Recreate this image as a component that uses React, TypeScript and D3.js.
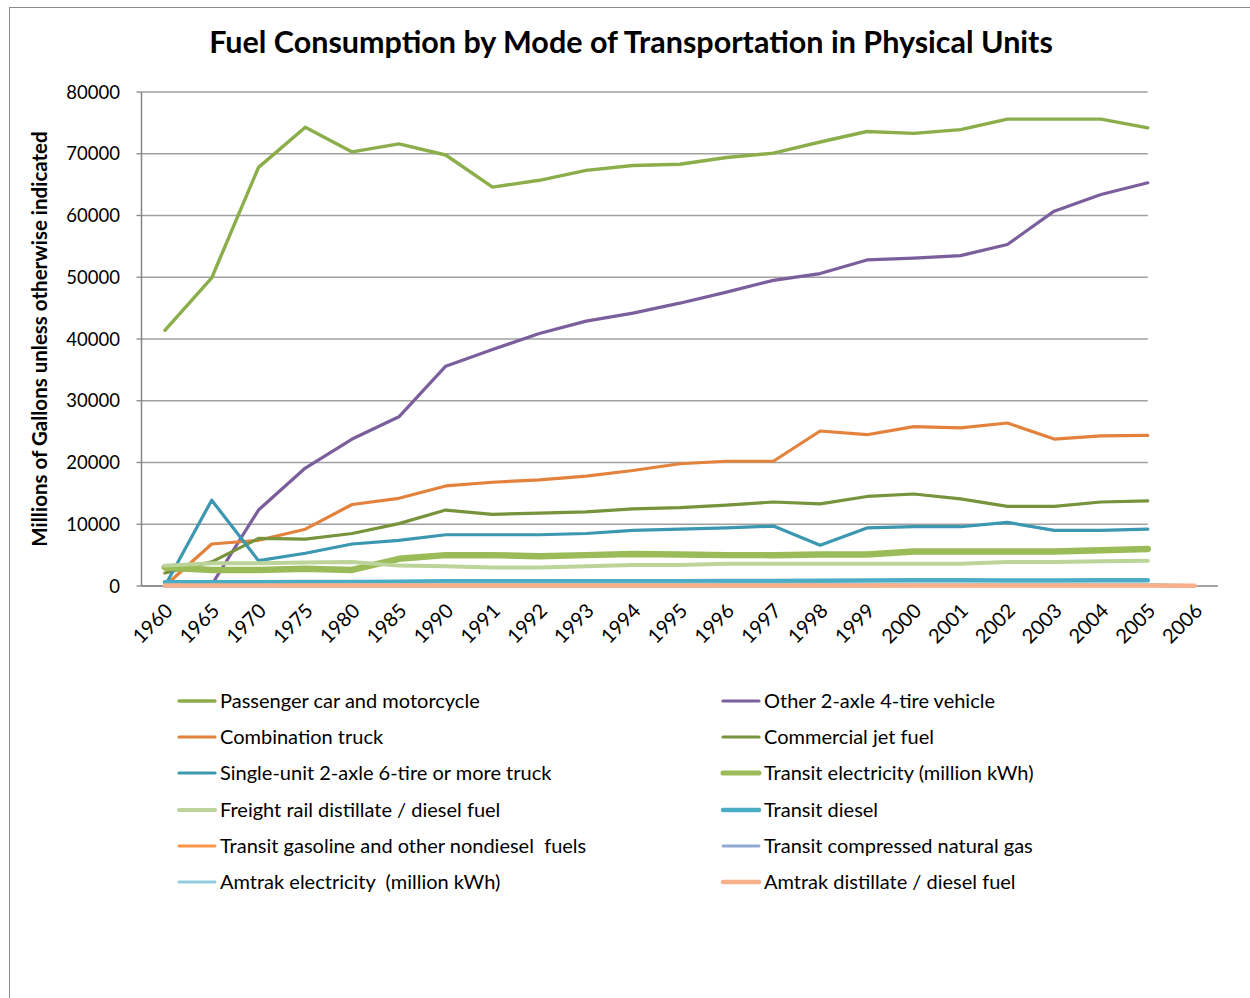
import React from "react";
import * as d3 from "d3";

const categories = ["1960","1965","1970","1975","1980","1985","1990","1991","1992","1993","1994","1995","1996","1997","1998","1999","2000","2001","2002","2003","2004","2005","2006"];

const yTicks = [0, 10000, 20000, 30000, 40000, 50000, 60000, 70000, 80000];

type V = number | null;

const passengerCar: V[] = [41400, 49900, 67800, 74300, 70300, 71600, 69800, 64600, 65700, 67300, 68100, 68300, 69400, 70100, 71900, 73600, 73300, 73900, 75600, 75600, 75600, 74200, null];
const other2Axle: V[] = [null, 200, 12300, 19100, 23800, 27400, 35600, 38300, 40900, 42900, 44200, 45800, 47600, 49500, 50600, 52800, 53100, 53500, 55300, 60700, 63400, 65300, null];
const combinationTruck: V[] = [0, 6800, 7400, 9200, 13200, 14200, 16200, 16800, 17200, 17800, 18700, 19800, 20200, 20200, 25100, 24500, 25800, 25600, 26400, 23800, 24300, 24400, null];
const commercialJet: V[] = [2100, 3900, 7700, 7600, 8500, 10100, 12300, 11600, 11800, 12000, 12500, 12700, 13100, 13600, 13300, 14500, 14900, 14100, 12900, 12900, 13600, 13800, null];
const singleUnitTruck: V[] = [0, 13900, 4100, 5300, 6800, 7400, 8300, 8300, 8300, 8500, 9000, 9200, 9400, 9700, 6600, 9400, 9600, 9600, 10300, 9000, 9000, 9200, null];
const transitElectricity: V[] = [3000, 2600, 2600, 2800, 2600, 4400, 5000, 5000, 4800, 5000, 5200, 5100, 5000, 5000, 5100, 5100, 5600, 5600, 5600, 5600, 5800, 6000, null];
const freightRail: V[] = [3300, 3700, 3700, 3800, 3900, 3300, 3200, 3000, 3000, 3200, 3400, 3400, 3600, 3600, 3600, 3600, 3600, 3600, 3900, 3900, 4000, 4100, null];
const transitDiesel: V[] = [600, 600, 600, 650, 650, 700, 750, 750, 750, 750, 750, 750, 800, 800, 850, 900, 950, 950, 900, 900, 950, 950, null];
const transitGasoline: V[] = [100, 90, 80, 60, 50, 40, 30, 30, 30, 30, 30, 30, 30, 30, 30, 30, 30, 30, 30, 30, 30, 30, 0];
const transitCNG: V[] = [0, 0, 0, 0, 0, 0, 0, 0, 0, 0, 10, 20, 30, 40, 50, 60, 70, 80, 90, 100, 110, 120, 0];
const amtrakElectricity: V[] = [0, 0, 0, 150, 200, 250, 300, 300, 300, 300, 300, 300, 300, 300, 300, 300, 300, 300, 300, 300, 300, 300, 0];
const amtrakDistillate: V[] = [80, 80, 80, 80, 80, 80, 80, 80, 80, 80, 80, 80, 80, 80, 80, 80, 80, 80, 80, 80, 80, 80, 50];

const seriesNames = [
  "Passenger car and motorcycle",
  "Other 2-axle 4-tire vehicle",
  "Combination truck",
  "Commercial jet fuel",
  "Single-unit 2-axle 6-tire or more truck",
  "Transit electricity (million kWh)",
  "Freight rail distillate / diesel fuel",
  "Transit diesel",
  "Transit gasoline and other nondiesel  fuels",
  "Transit compressed natural gas",
  "Amtrak electricity  (million kWh)",
  "Amtrak distillate / diesel fuel",
];
const seriesValues = [passengerCar, other2Axle, combinationTruck, commercialJet, singleUnitTruck, transitElectricity, freightRail, transitDiesel, transitGasoline, transitCNG, amtrakElectricity, amtrakDistillate];
const seriesColors = ["#8BAE4B", "#7B5E9C", "#E3823C", "#77933C", "#3C97B1", "#9BBB59", "#BCD39A", "#4BACC6", "#F79646", "#8FA9D0", "#93CDDD", "#F6B08C"];
const seriesWidths = [3.4, 3.2, 3.2, 3.2, 3.2, 6.5, 4, 4.5, 3, 3, 3, 4.5];

const FONT = "Lato, 'Open Sans', sans-serif";

export default function App() {
  const left = 141.5;
  const right = 1218;
  const top = 92;
  const bottom = 586;
  const x = d3.scaleBand<string>().domain(categories).range([left, right]);
  const cx = (c: string) => (x(c) as number) + x.bandwidth() / 2;
  const y = d3.scaleLinear().domain([0, 80000]).range([bottom, top]);
  const gridEnd = cx("2005");

  const line = d3
    .line<V>()
    .defined((d) => d !== null)
    .x((_, i) => cx(categories[i]))
    .y((d) => y(d as number));

  const legendRows = [701, 737, 773, 810, 846, 882];

  return (
    <svg width={1250} height={998} style={{ position: "absolute", left: 0, top: 0, background: "#fff" }} fontFamily={FONT}>
      <rect x={9.5} y={7.5} width={1300} height={1100} fill="#fff" stroke="#8c8c8c" strokeWidth={1} />
      <text x={631} y={53} textAnchor="middle" fontSize={30.5} fontWeight="bold" fill="#000">
        Fuel Consumption by Mode of Transportation in Physical Units
      </text>
      {/* gridlines */}
      {yTicks.map((t) => (
        <line key={"g" + t} x1={left} x2={gridEnd} y1={y(t)} y2={y(t)} stroke="#a0a0a0" strokeWidth={1.3} />
      ))}
      {yTicks.map((t) => (
        <line key={"tk" + t} x1={left - 5} x2={left} y1={y(t)} y2={y(t)} stroke="#868686" strokeWidth={1.3} />
      ))}
      {yTicks.map((t) => (
        <text key={"yl" + t} x={120} y={y(t) + 6.5} textAnchor="end" fontSize={18.5} fill="#000">
          {t}
        </text>
      ))}
      <line x1={left} x2={left} y1={top} y2={bottom} stroke="#868686" strokeWidth={1.5} />
      <line x1={left} x2={right} y1={bottom} y2={bottom} stroke="#868686" strokeWidth={1.5} />
      <text transform={`translate(47, ${(top + bottom) / 2}) rotate(-90)`} textAnchor="middle" fontSize={20.5} fontWeight="bold" fill="#000">
        Millions of Gallons unless otherwise indicated
      </text>
      {/* series */}
      {seriesValues.map((vals, i) => (
        <path key={"s" + i} d={line(vals) || ""} fill="none" stroke={seriesColors[i]} strokeWidth={seriesWidths[i]} strokeLinejoin="round" strokeLinecap="round" />
      ))}
      {categories.map((c) => (
        <text key={"xl" + c} transform={`translate(${cx(c) + 9}, ${612}) rotate(-45)`} textAnchor="end" fontSize={20} fill="#000">
          {c}
        </text>
      ))}
      {/* legend */}
      {seriesNames.map((n, i) => {
        const col = i % 2;
        const row = Math.floor(i / 2);
        const lx = col === 0 ? 179 : 723;
        const ly = legendRows[row];
        return (
          <g key={"lg" + i}>
            <line x1={lx} x2={lx + 36} y1={ly} y2={ly} stroke={seriesColors[i]} strokeWidth={Math.min(seriesWidths[i], 5)} strokeLinecap="round" />
            <text x={lx + 41} y={ly + 6.5} fontSize={20} fill="#000" style={{ whiteSpace: "pre" }}>
              {n}
            </text>
          </g>
        );
      })}
    </svg>
  );
}
